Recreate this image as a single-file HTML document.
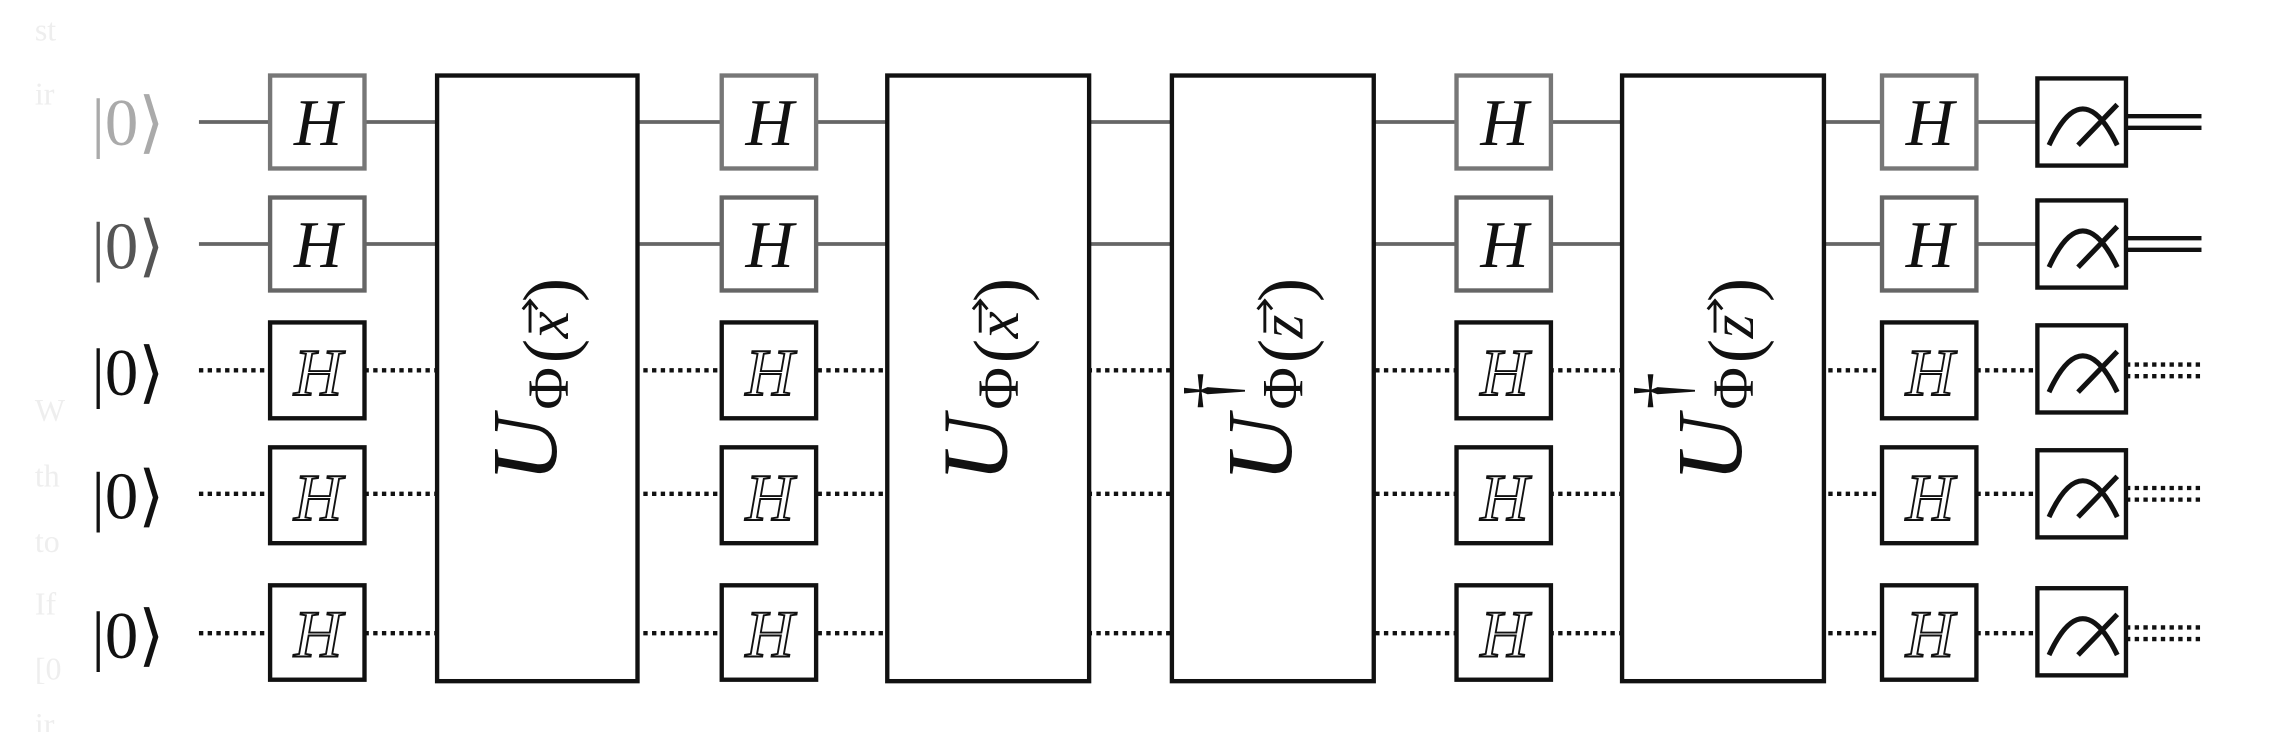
<!DOCTYPE html>
<html><head><meta charset="utf-8"><style>
html,body{margin:0;padding:0;background:#fff;}
svg{display:block;}
text{font-family:"Liberation Serif",serif;}
</style></head><body>
<svg width="2277" height="732" viewBox="0 0 1568 504" preserveAspectRatio="none" xmlns="http://www.w3.org/2000/svg">
<rect width="1568" height="504" fill="#fff"/>
<g fill="#eee" font-size="22">
<text x="24" y="28">st</text><text x="24" y="72">ir</text><text x="24" y="290">W</text>
<text x="24" y="335">th</text><text x="24" y="380">to</text><text x="24" y="423">If</text>
<text x="24" y="468">[0</text><text x="24" y="506">ir</text>
</g>
<!-- wires -->
<g stroke="#666" stroke-width="2.5">
<line x1="137" y1="84" x2="1403" y2="84"/>
<line x1="137" y1="168" x2="1403" y2="168"/>
</g>
<g stroke="#111" stroke-width="3" stroke-dasharray="3,3">
<line x1="137" y1="255" x2="1403" y2="255"/>
<line x1="137" y1="340" x2="1403" y2="340"/>
<line x1="137" y1="436" x2="1403" y2="436"/>
<line x1="1464" y1="251" x2="1516" y2="251"/><line x1="1464" y1="259" x2="1516" y2="259"/>
<line x1="1464" y1="336" x2="1516" y2="336"/><line x1="1464" y1="344" x2="1516" y2="344"/>
<line x1="1464" y1="432" x2="1516" y2="432"/><line x1="1464" y1="440" x2="1516" y2="440"/>
</g>
<g stroke="#111" stroke-width="3">
<line x1="1464" y1="80" x2="1516" y2="80"/><line x1="1464" y1="88" x2="1516" y2="88"/>
<line x1="1464" y1="164" x2="1516" y2="164"/><line x1="1464" y1="172" x2="1516" y2="172"/>
</g>
<!-- labels -->
<g font-size="46">
<text x="63" y="100" fill="#aaa">|0⟩</text>
<text x="63" y="185" fill="#555">|0⟩</text>
<text x="63" y="272" fill="#111">|0⟩</text>
<text x="63" y="357" fill="#111">|0⟩</text>
<text x="63" y="453" fill="#111">|0⟩</text>
</g>
<!-- H columns -->
<g id="hc">
<rect x="186" y="52" width="65" height="64" fill="#fff" stroke="#777" stroke-width="3"/>
<rect x="186" y="136" width="65" height="64" fill="#fff" stroke="#666" stroke-width="3"/>
<rect x="186" y="222" width="65" height="66" fill="#fff" stroke="#111" stroke-width="3"/>
<rect x="186" y="308" width="65" height="66" fill="#fff" stroke="#111" stroke-width="3"/>
<rect x="186" y="403" width="65" height="65" fill="#fff" stroke="#111" stroke-width="3"/>
<g font-size="46" font-style="italic" text-anchor="middle">
<text x="219" y="100" fill="#111">H</text>
<text x="219" y="184" fill="#111">H</text>
<text x="219" y="272" fill="#fff" stroke="#111" stroke-width="1.3">H</text>
<text x="219" y="358" fill="#fff" stroke="#111" stroke-width="1.3">H</text>
<text x="219" y="452" fill="#fff" stroke="#111" stroke-width="1.3">H</text>
</g>
</g>
<use href="#hc" x="311"/>
<use href="#hc" x="817"/>
<use href="#hc" x="1110"/>
<!-- U boxes -->
<g fill="#fff" stroke="#111" stroke-width="3">
<rect x="301" y="52" width="138" height="417"/>
<rect x="611" y="52" width="139" height="417"/>
<rect x="807" y="52" width="139" height="417"/>
<rect x="1117" y="52" width="139" height="417"/>
</g>
<defs>
<g id="ux" fill="#111">
<text x="0" y="0" font-size="64" font-style="italic">U</text>
<text x="50" y="8" font-size="40">Φ</text>
<text x="82" y="12" font-size="50">(</text>
<text x="99" y="8" font-size="42" font-style="italic">x</text>
<text x="124" y="12" font-size="50">)</text>
<path d="M103 -18 L124 -18 M119 -23 L125 -18 L119 -13" stroke="#111" stroke-width="2" fill="none"/>
</g>
<g id="uz" fill="#111">
<text x="0" y="0" font-size="64" font-style="italic">U</text>
<text x="50" y="8" font-size="40">Φ</text>
<text x="82" y="12" font-size="50">(</text>
<text x="99" y="8" font-size="42" font-style="italic">z</text>
<text x="124" y="12" font-size="50">)</text>
<path d="M103 -18 L124 -18 M119 -23 L125 -18 L119 -13" stroke="#111" stroke-width="2" fill="none"/>
<text x="50" y="-38" font-size="52">†</text>
</g>
</defs>
<use href="#ux" transform="translate(383,332) rotate(-90)"/>
<use href="#ux" transform="translate(693,332) rotate(-90)"/>
<use href="#uz" transform="translate(889,332) rotate(-90)"/>
<use href="#uz" transform="translate(1199,332) rotate(-90)"/>
<!-- meters -->
<g id="m" fill="none" stroke="#111" stroke-width="3">
<rect x="1403" y="54" width="61" height="60" fill="#fff"/>
<path d="M1411 100 Q1434 50 1458 100" stroke-width="3.5"/>
<line x1="1431" y1="100" x2="1458" y2="72" stroke-width="3.5"/>
</g>
<use href="#m" y="84"/>
<use href="#m" y="170"/>
<use href="#m" y="256"/>
<use href="#m" y="351"/>
</svg>
</body></html>
